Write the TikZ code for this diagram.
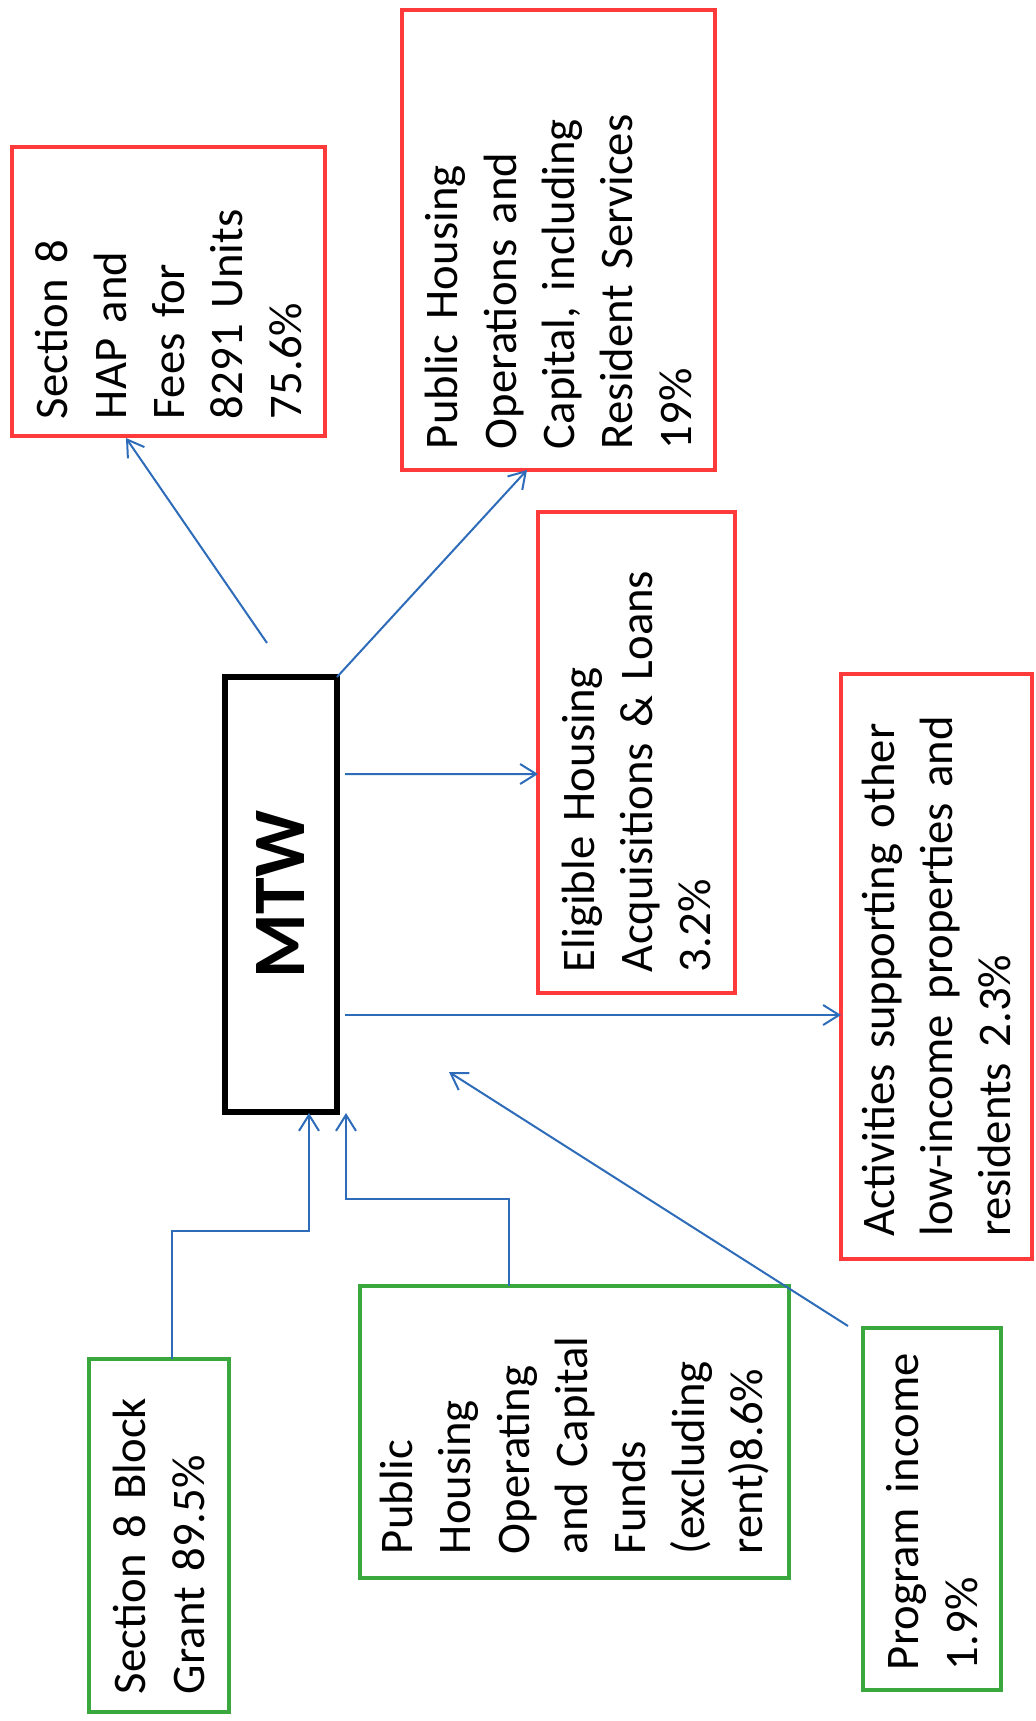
\documentclass[tikz,border=0pt]{standalone}
\usepackage{fontspec}
\setmainfont{Carlito}
\usetikzlibrary{arrows.meta,calc}
\definecolor{boxred}{RGB}{255,58,58}
\definecolor{boxgreen}{RGB}{58,168,62}
\definecolor{arrblue}{RGB}{46,108,186}
\begin{document}
\begin{tikzpicture}[x=1bp,y=-1bp,
 boxbase/.style={rotate=90, draw, line width=4.5bp, fill=white, inner ysep=0bp, align=left, font=\fontsize{46.7bp}{58.3bp}\selectfont},
 redbox/.style={boxbase, draw=boxred},
 greenbox/.style={boxbase, draw=boxgreen},
 arr/.style={draw=arrblue, line width=2bp, -{Straight Barb[length=16bp,width=20bp,line width=2bp]}},
]
\fill[white] (0,0) rectangle (1035,1721);
\useasboundingbox (0,0) rectangle (1035,1721);

% outputs (red)
\node[redbox, minimum width=289bp, minimum height=313bp, text width=255bp, inner xsep=17bp] (hap) at (168.5,291.5)
  {Section 8\\HAP and\\Fees for\\8291 Units\\75.6\%};
\node[redbox, minimum width=460bp, minimum height=313bp, text width=418bp, inner xsep=21bp] (phops) at (558.5,240)
  {Public Housing\\Operations and\\Capital, including\\Resident Services\\19\%};
\node[redbox, minimum width=481bp, minimum height=197bp, text width=439bp, inner xsep=21bp] (elig) at (636.5,752.5)
  {Eligible Housing\\Acquisitions \& Loans\\3.2\%};
\node[redbox, minimum width=585bp, minimum height=191bp, text width=540bp, inner xsep=22.5bp] (act) at (936.5,966.5)
  {Activities supporting other\\low-income properties and\\residents 2.3\%};

% centre
\node[rotate=90, draw=black, line width=5.5bp, fill=white, minimum width=435bp, minimum height=112bp,
  font=\fontsize{74bp}{80bp}\selectfont\bfseries] (mtw) at (281,894.5) {MTW};

% inputs (green)
\node[greenbox, minimum width=353bp, minimum height=140bp, text width=317bp, inner xsep=18bp] (blk) at (159,1535.5)
  {Section 8 Block\\Grant 89.5\%};
\node[greenbox, minimum width=292bp, minimum height=429bp, text width=244bp, inner xsep=24bp] (phop) at (574.5,1432)
  {Public\\Housing\\Operating\\and Capital\\Funds\\(excluding\\rent)8.6\%};
\node[greenbox, minimum width=362bp, minimum height=138bp, text width=322bp, inner xsep=20bp] (prog) at (932,1509)
  {Program income\\1.9\%};

% connectors
\coordinate (hapS) at ([shift={(-14,-251.5)}]mtw.center);
\draw[arr] (hapS) -- ([shift={(-42.5,146.5)}]hap.center);
\draw[arr] ([shift={(56,-217.5)}]mtw.center) -- ([shift={(-31.5,230)}]phops.center);
\draw[arr] ([shift={(64,-120.5)}]mtw.center) -- ([shift={(-98.5,21.5)}]elig.center);
\draw[arr] ([shift={(64,120.5)}]mtw.center) -- ([shift={(-95.5,48.5)}]act.center);

\coordinate (j1) at (240,1231);
\draw[arr] ([shift={(13,-176.5)}]blk.center) |- (j1) -| ([shift={(28,218.5)}]mtw.center);
\coordinate (j2) at (420,1199);
\draw[arr] ([shift={(-65.5,-146)}]phop.center) |- (j2) -| ([shift={(65,218.5)}]mtw.center);
\coordinate (progT) at (449,1072);
\draw[arr] ([shift={(-84,-183)}]prog.center) -- (progT);
\end{tikzpicture}
\end{document}
